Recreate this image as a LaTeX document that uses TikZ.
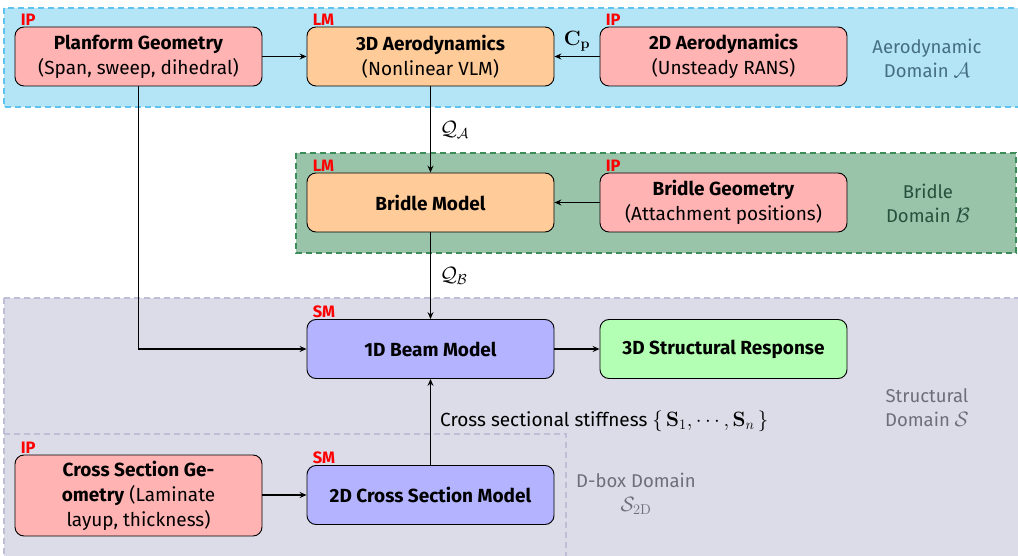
\documentclass[tikz,border=0pt]{standalone}
\usepackage[no-math]{fontspec}
\setmainfont{Fira Sans}
\usetikzlibrary{arrows.meta,positioning}
\newcommand\mymath[2][22]{{\fontsize{#1}{#1}\selectfont$#2$}}
\definecolor{aerofill}{RGB}{179,229,247}
\definecolor{aeroline}{RGB}{95,195,240}
\definecolor{aerotext}{RGB}{70,110,130}
\definecolor{bridfill}{RGB}{153,196,170}
\definecolor{bridline}{RGB}{60,140,90}
\definecolor{bridtext}{RGB}{40,80,60}
\definecolor{strfill}{RGB}{220,220,232}
\definecolor{strline}{RGB}{190,190,215}
\definecolor{strtext}{RGB}{110,110,122}
\definecolor{pinkbox}{RGB}{255,179,179}
\definecolor{orangebox}{RGB}{255,204,153}
\definecolor{bluebox}{RGB}{179,179,255}
\definecolor{greenbox}{RGB}{179,255,179}
\definecolor{tagred}{RGB}{255,0,0}
\tikzset{
  x=1pt, y=-1pt,
  blk/.style={draw=black, line width=0.9pt, rounded corners=9pt, minimum width=247pt, minimum height=59pt, align=center, font=\fontsize{19}{25}\selectfont, inner sep=2pt},
  ipbox/.style={blk, fill=pinkbox},
  lmbox/.style={blk, fill=orangebox},
  smbox/.style={blk, fill=bluebox},
  resbox/.style={blk, fill=greenbox},
  tag/.style={text=tagred, font=\fontsize{16.5}{16}\selectfont\bfseries, anchor=south west, inner sep=0pt},
  arr/.style={-{Stealth[length=7pt,width=6pt,inset=2.5pt]}, line width=1.1pt},
  domlabel/.style={align=center, font=\fontsize{18.5}{24}\selectfont},
  lab/.style={font=\fontsize{19}{22}\selectfont, inner sep=0pt}
}
\begin{document}
\begin{tikzpicture}
\useasboundingbox (0,0) rectangle (1018,556);
\clip (0,0) rectangle (1018,556);
% domains
\draw[fill=aerofill, draw=aeroline, line width=1.4pt, dash pattern=on 6pt off 4pt] (4,8) rectangle (1030,107);
\draw[fill=bridfill, draw=bridline, line width=1.2pt, dash pattern=on 6pt off 4pt] (296,153) rectangle (1016,253);
\draw[fill=strfill, draw=strline, line width=1.2pt, dash pattern=on 6pt off 4pt] (4,298) rectangle (1030,570);
\draw[draw=strline, line width=1.2pt, dash pattern=on 6pt off 4pt] (4,434) -- (566,434) -- (566,570);
% domain labels
\node[domlabel, text=aerotext] (laero) at (927,58) {Aerodynamic\\Domain \mymath[21]{\mathcal{A}}};
\node[domlabel, text=bridtext] (lbrid) at (928,203) {Bridle\\Domain \mymath[21]{\mathcal{B}}};
\node[domlabel, text=strtext] (lstr) at (927,408) {Structural\\Domain \mymath[21]{\mathcal{S}}};
\node[domlabel, text=strtext] (ldbox) at (636,494) {D-box Domain\\\mymath[21]{\mathcal{S}_{\mathrm{2D}}}};
% blocks
\node[ipbox] (plan) at (138.5,56.5) {\textbf{Planform Geometry}\\(Span, sweep, dihedral)};
\node[lmbox] (aero3) at (430.5,56.5) {\textbf{3D Aerodynamics}\\(Nonlinear VLM)};
\node[ipbox] (aero2) at (723.5,56.5) {\textbf{2D Aerodynamics}\\(Unsteady RANS)};
\node[lmbox] (bmod) at (430.5,202.5) {\textbf{Bridle Model}};
\node[ipbox] (bgeo) at (723.5,202.5) {\textbf{Bridle Geometry}\\(Attachment positions)};
\node[smbox] (beam) at (430.5,349) {\textbf{1D Beam Model}};
\node[resbox] (resp) at (723.5,349) {\textbf{3D Structural Response}};
\node[ipbox, minimum height=81pt] (csg) at (138.5,495.5) {\textbf{Cross Section Ge-}\\\textbf{ometry} (Laminate\\layup, thickness)};
\node[smbox] (csm) at (430.5,495) {\textbf{2D Cross Section Model}};
% tags
\node[tag] (t1) at ([xshift=6pt,yshift=1pt]plan.north west) {IP};
\node[tag] (t2) at ([xshift=6pt,yshift=1pt]aero3.north west) {LM};
\node[tag] (t3) at ([xshift=6pt,yshift=1pt]aero2.north west) {IP};
\node[tag] (t4) at ([xshift=6pt,yshift=1pt]bmod.north west) {LM};
\node[tag] (t5) at ([xshift=6pt,yshift=1pt]bgeo.north west) {IP};
\node[tag] (t6) at ([xshift=6pt,yshift=1pt]beam.north west) {SM};
\node[tag] (t7) at ([xshift=6pt,yshift=1pt]csg.north west) {IP};
\node[tag] (t8) at ([xshift=6pt,yshift=1pt]csm.north west) {SM};
% connectors
\draw[arr] (plan) -- (aero3);
\draw[arr] (aero2) -- node[above, lab, yshift=5pt] (cp) {\mymath{\mathbf{C_p}}} (aero3);
\draw[arr] (aero3) -- node[right, lab, xshift=9pt] (qa) {\mymath{\mathcal{Q}_{\mathcal{A}}}} (bmod);
\draw[arr] (bgeo) -- (bmod);
\draw[arr] (bmod) -- node[right, lab, xshift=9pt] (qb) {\mymath{\mathcal{Q}_{\mathcal{B}}}} (beam);
\draw[arr] (plan.south) |- (beam.west);
\draw[arr] (beam) -- (resp);
\draw[arr] (csm) -- (beam);
\node[lab, anchor=west] (stiff) at (440,421) {Cross sectional stiffness \mymath{\{\,\mathbf{S}_1,\cdots,\mathbf{S}_n\,\}}};
\draw[arr, line width=1.4pt] (csg.east |- csm.west) -- (csm.west);
\end{tikzpicture}
\end{document}
